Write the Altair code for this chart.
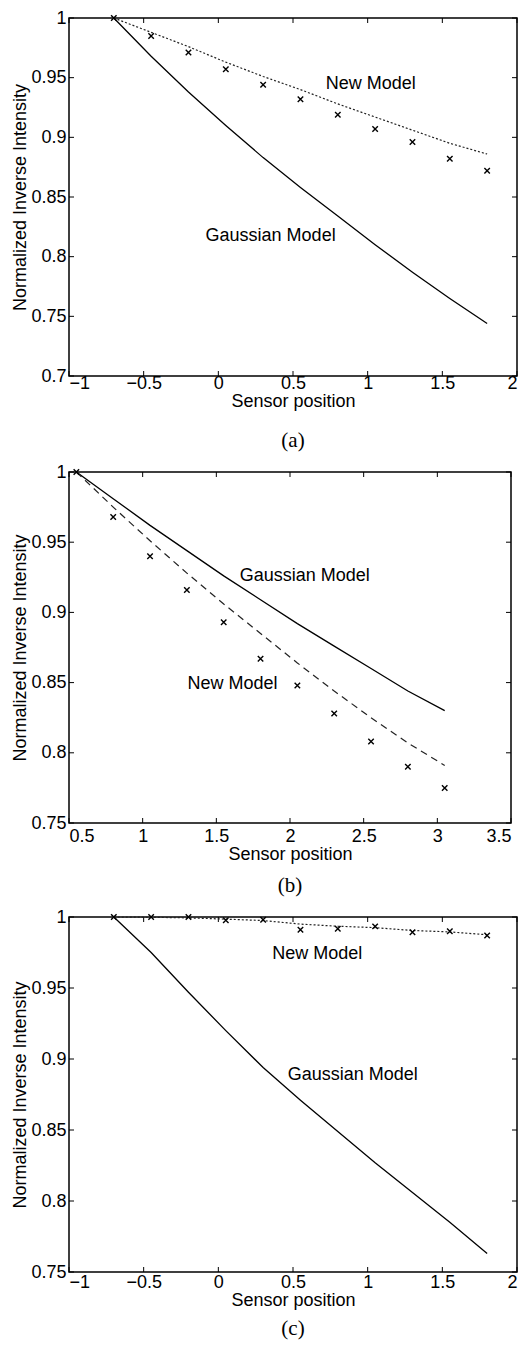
import altair as alt
import pandas as pd

FONT = "Liberation Sans"
SERIF = "Liberation Serif"

# ---------------- data ----------------
# Panel (a)
a_pos = [-0.7, -0.45, -0.2, 0.05, 0.3, 0.55, 0.8, 1.05, 1.3, 1.55, 1.8]
a_meas = [1.0, 0.985, 0.971, 0.957, 0.944, 0.932, 0.919, 0.907, 0.896, 0.882, 0.872]
a_gauss = [1.0, 0.968, 0.938, 0.910, 0.883, 0.858, 0.834, 0.810, 0.787, 0.765, 0.744]
a_new = [1.0, 0.988, 0.976, 0.963, 0.951, 0.940, 0.928, 0.917, 0.906, 0.895, 0.886]
a_xticks = [-1, -0.5, 0, 0.5, 1, 1.5, 2]
a_yticks = [0.7, 0.75, 0.8, 0.85, 0.9, 0.95, 1.0]
a_labels = ["New Model", "Gaussian Model"]
a_label_x = [1.02, 0.35]
a_label_y = [0.945, 0.817]

# Panel (b)
b_pos = [0.55, 0.8, 1.05, 1.3, 1.55, 1.8, 2.05, 2.3, 2.55, 2.8, 3.05]
b_meas = [1.0, 0.968, 0.940, 0.916, 0.893, 0.867, 0.848, 0.828, 0.808, 0.790, 0.775]
b_gauss = [1.0, 0.981, 0.962, 0.944, 0.926, 0.909, 0.892, 0.876, 0.860, 0.844, 0.830]
b_new = [1.0, 0.975, 0.951, 0.928, 0.906, 0.885, 0.864, 0.844, 0.825, 0.807, 0.791]
b_xticks = [0.5, 1, 1.5, 2, 2.5, 3, 3.5]
b_yticks = [0.75, 0.8, 0.85, 0.9, 0.95, 1.0]
b_labels = ["Gaussian Model", "New Model"]
b_label_x = [2.10, 1.61]
b_label_y = [0.926, 0.849]

# Panel (c)
c_pos = [-0.7, -0.45, -0.2, 0.05, 0.3, 0.55, 0.8, 1.05, 1.3, 1.55, 1.8]
c_meas = [1.0, 1.0, 1.0, 0.9977, 0.998, 0.991, 0.9918, 0.9934, 0.9892, 0.9899, 0.987]
c_gauss = [1.0, 0.975, 0.947, 0.920, 0.894, 0.871, 0.849, 0.827, 0.806, 0.785, 0.763]
c_new = [1.0, 0.9998, 0.9994, 0.9985, 0.9975, 0.995, 0.9935, 0.9925, 0.9905, 0.9895, 0.9875]
c_xticks = [-1, -0.5, 0, 0.5, 1, 1.5, 2]
c_yticks = [0.75, 0.8, 0.85, 0.9, 0.95, 1.0]
c_labels = ["New Model", "Gaussian Model"]
c_label_x = [0.663, 0.90]
c_label_y = [0.974, 0.889]

X_TITLE = "Sensor position"
Y_TITLE = "Normalized Inverse Intensity"

TICK = 5
X_MARK = "M-1,-1L1,1M-1,1L1,-1"


def panel(pos, meas, gauss, new, xticks, yticks, lx, ly, ltext,
          new_dash, caption, w, h, lab_pad, tit_pad, cap_off):
    xdom = [xticks[0], xticks[-1]]
    ydom = [yticks[0], yticks[-1]]
    xaxis = alt.Axis(values=xticks, format="~g", title=X_TITLE, tickSize=0,
                     domain=False, grid=False, labelFont=FONT, labelFontSize=18,
                     labelPadding=lab_pad, labelColor="black", titleFont=FONT,
                     titleFontSize=18, titleFontWeight="normal",
                     titleColor="black", titlePadding=tit_pad, labelOverlap=False)
    yaxis = alt.Axis(values=yticks, format="~g", title=Y_TITLE, tickSize=0,
                     domain=False, grid=False, labelFont=FONT, labelFontSize=18,
                     labelPadding=3, labelColor="black", titleFont=FONT,
                     titleFontSize=18, titleFontWeight="normal",
                     titleColor="black", titlePadding=1, labelOverlap=False)
    xs = alt.Scale(domain=xdom, nice=False, zero=False)
    ys = alt.Scale(domain=ydom, nice=False, zero=False)

    def X():
        return alt.X("x:Q", scale=xs, axis=xaxis)

    def Y():
        return alt.Y("y:Q", scale=ys, axis=yaxis)

    df = pd.DataFrame({"x": pos, "y": meas})
    dg = pd.DataFrame({"x": pos, "y": gauss})
    dn = pd.DataFrame({"x": pos, "y": new})
    dl = pd.DataFrame({"x": lx, "y": ly, "t": ltext})
    dxt = pd.DataFrame({"x": xticks})
    dyt = pd.DataFrame({"y": yticks})

    gauss_line = alt.Chart(dg).mark_line(color="black", strokeWidth=1.3).encode(x=X(), y=Y())
    new_line = alt.Chart(dn).mark_line(color="#222", strokeWidth=1.2,
                                       strokeDash=new_dash).encode(x=X(), y=Y())
    pts = alt.Chart(df).mark_point(shape=X_MARK, size=30, filled=False,
                                   strokeWidth=1.4, color="black",
                                   opacity=1).encode(x=X(), y=Y())
    txt = alt.Chart(dl).mark_text(font=FONT, fontSize=18, color="black",
                                  align="center", baseline="middle").encode(
        x=X(), y=Y(), text="t:N")
    tb = alt.Chart(dxt).mark_rule(color="black", strokeWidth=1).encode(
        x=X(), y=alt.value(h), y2=alt.value(h - TICK))
    tt = alt.Chart(dxt).mark_rule(color="black", strokeWidth=1).encode(
        x=X(), y=alt.value(0), y2=alt.value(TICK))
    tl = alt.Chart(dyt).mark_rule(color="black", strokeWidth=1).encode(
        y=Y(), x=alt.value(0), x2=alt.value(TICK))
    tr = alt.Chart(dyt).mark_rule(color="black", strokeWidth=1).encode(
        y=Y(), x=alt.value(w - TICK), x2=alt.value(w))

    return alt.layer(tb, tt, tl, tr, gauss_line, new_line, pts, txt).properties(
        width=w, height=h,
        title=alt.TitleParams(text=caption, orient="bottom", font=SERIF,
                              fontSize=21, fontWeight="normal", color="black",
                              offset=cap_off, anchor="middle"))


pa = panel(a_pos, a_meas, a_gauss, a_new, a_xticks, a_yticks,
           a_label_x, a_label_y, a_labels, [2, 2], "(a)", 448, 358, -2, 0, 20)
pb = panel(b_pos, b_meas, b_gauss, b_new, b_xticks, b_yticks,
           b_label_x, b_label_y, b_labels, [7, 5], "(b)", 442, 351, 4, 0, 12)
pc = panel(c_pos, c_meas, c_gauss, c_new, c_xticks, c_yticks,
           c_label_x, c_label_y, c_labels, [2, 2], "(c)", 448, 355, 1, 0, 9)

chart = alt.vconcat(pa, pb, pc, spacing=10).properties(
    padding={"left": 3, "top": 0, "right": 2, "bottom": 0},
    background="white",
).configure_view(stroke="black", strokeWidth=1.5)

chart.save("out.html", embed_options={"renderer": "svg", "actions": False})
